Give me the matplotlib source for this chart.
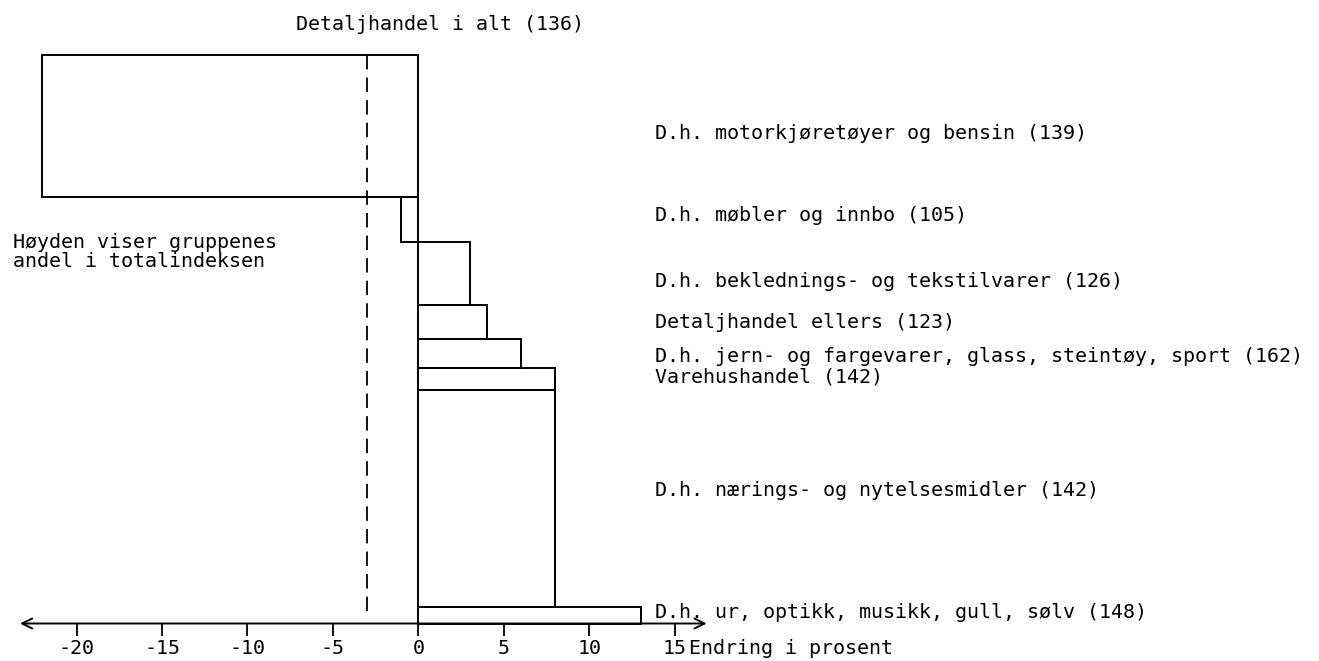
import matplotlib
matplotlib.use("Agg")
import matplotlib.pyplot as plt
import numpy as np

# Detaljhandel: endring i prosent (bredde) og andel i totalindeksen (hoyde)
groups = [
    "D.h. motorkjøretøyer og bensin (139)",
    "D.h. møbler og innbo (105)",
    "D.h. beklednings- og tekstilvarer (126)",
    "Detaljhandel ellers (123)",
    "D.h. jern- og fargevarer, glass, steintøy, sport (162)",
    "Varehushandel (142)",
    "D.h. nærings- og nytelsesmidler (142)",
    "D.h. ur, optikk, musikk, gull, sølv (148)",
]
change = [-22, -1, 3, 4, 6, 8, 8, 13]
share = [24.9, 8.0, 11.1, 5.9, 5.2, 3.9, 38.1, 2.9]

total_label = "Detaljhandel i alt (136)"
total_change = -3

ticks = [-20, -15, -10, -5, 0, 5, 10, 15]
tick_labels = ["-20", "-15", "-10", "-5", "0", "5", "10", "15"]
xlabel = "Endring i prosent"
note = "Høyden viser gruppenes\nandel i totalindeksen"

plt.rcParams['font.family'] = ['DejaVu Sans Mono']
FS = 14.4

fig = plt.figure(figsize=(13.19, 6.61), dpi=100)
ax = fig.add_axes([0, 0, 1, 1])

# skala: 0 ved piksel 418.5, ca 17.1 px per prosent; y=0 ved piksel 623.5, 100 ved 55
px_x = 17.1
px_y = (623.5 - 55) / 100
ax.set_xlim(-418.5 / px_x, (1319 - 418.5) / px_x)
ax.set_ylim(-(661 - 623.5) / px_y, 100 + 55 / px_y)
ax.axis('off')

share = np.array(share)
bottoms = 100 - np.cumsum(share)

ax.barh(bottoms, change, height=share, align='edge', fill=False,
        edgecolor='black', linewidth=1.4)

# stiplet linje for totalen
ax.plot([total_change, total_change], [100, 7 / px_y], color='black',
        linewidth=1.3, linestyle=(0, (8, 4.5)))

# x-akse med piler
ax.annotate("", xy=(16.85, 0), xytext=(-23.3, 0),
            arrowprops=dict(arrowstyle='<->', color='black', lw=1.4,
                            mutation_scale=18, shrinkA=0, shrinkB=0))
ax.vlines(ticks, 0, -12 / px_y, color='black', linewidth=1.3)
for t, lab in zip(ticks, tick_labels):
    ax.text(t, -25.5 / px_y, lab, ha='center', va='center', fontsize=FS)
ax.text(271 / px_x, -25.5 / px_y, xlabel, ha='left', va='center', fontsize=FS)

# etiketter, litt forskjøvet i forhold til midten av søylen (piksler)
label_x = (655 - 418.5) / px_x
nudge_px = [8, -4, 8, 1, 3, -2, -8, -3]
for g, b, s, d in zip(groups, bottoms, share, nudge_px):
    ax.text(label_x, b + s / 2 - d / px_y, g, ha='left', va='center', fontsize=FS)

ax.text((440 - 418.5) / px_x, 100 + 31 / px_y, total_label,
        ha='center', va='center', fontsize=FS)
ax.text(-405.5 / px_x, 100 - 197 / px_y, note, ha='left', va='center',
        fontsize=FS, linespacing=0.95)

fig.savefig("out.png", dpi=100)
